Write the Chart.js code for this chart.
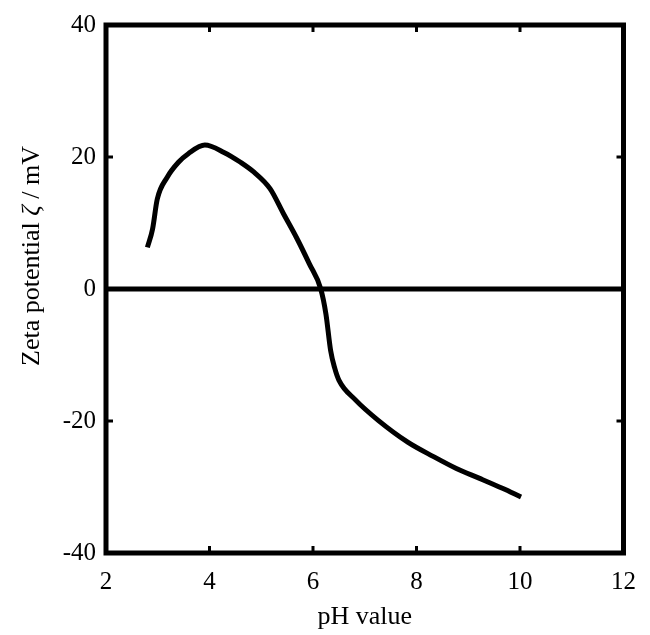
<!DOCTYPE html>
<html>
<head>
<meta charset="utf-8">
<script src="https://cdn.jsdelivr.net/npm/chart.js@4.4.1/dist/chart.umd.min.js"></script>
<style>
  html, body { margin: 0; padding: 0; background: #ffffff; }
  #wrap { width: 650px; height: 635px; position: relative; }
</style>
</head>
<body>
<div id="wrap"><canvas id="c" width="650" height="635"></canvas></div>
<script>
// ---- data ----
const phValues   = [2.80, 2.90, 2.99, 3.18, 3.40, 3.59, 3.91, 4.28, 4.60, 4.86, 5.17, 5.43, 5.68, 5.93, 6.15, 6.25, 6.34, 6.42, 6.50, 6.82, 7.26, 7.83, 8.33, 8.77, 9.22, 9.66, 10.02];
const zetaValues = [6.3, 9.1, 13.6, 16.9, 19.2, 20.5, 21.8, 20.7, 19.2, 17.7, 15.2, 11.4, 7.8, 3.8, 0.0, -3.8, -9.3, -12.0, -13.8, -16.8, -19.9, -23.2, -25.4, -27.2, -28.7, -30.2, -31.5];
const zeroLineX  = [2, 12];
const zeroLineY  = [0, 0];
const xTickValues = [2, 4, 6, 8, 10, 12];
const yTickValues = [-40, -20, 0, 20, 40];
const xTitle = "pH value";
const yTitleParts = ["Zeta potential ", "\u03B6", " / mV"];

const FONT = "'Liberation Serif', 'Times New Roman', serif";

const curveData = phValues.map((x, i) => ({ x: x, y: zetaValues[i] }));
const zeroData = zeroLineX.map((x, i) => ({ x: x, y: zeroLineY[i] }));

const framePlugin = {
  id: 'frame',
  afterDatasetsDraw(chart) {
    const ctx = chart.ctx;
    const a = chart.chartArea;
    const xs = chart.scales.x, ys = chart.scales.y;
    ctx.save();
    ctx.strokeStyle = '#000';
    ctx.lineWidth = 5;
    ctx.strokeRect(a.left, a.top, a.right - a.left, a.bottom - a.top);
    // inward ticks
    const tl = 7;
    ctx.lineWidth = 3;
    xTickValues.forEach(v => {
      const px = xs.getPixelForValue(v);
      ctx.beginPath();
      ctx.moveTo(px, a.bottom); ctx.lineTo(px, a.bottom - tl);
      ctx.moveTo(px, a.top); ctx.lineTo(px, a.top + tl);
      ctx.stroke();
    });
    yTickValues.forEach(v => {
      const py = ys.getPixelForValue(v);
      ctx.beginPath();
      ctx.moveTo(a.left, py); ctx.lineTo(a.left + tl, py);
      ctx.moveTo(a.right, py); ctx.lineTo(a.right - tl, py);
      ctx.stroke();
    });
    ctx.restore();
  },
  afterDraw(chart) {
    const ctx = chart.ctx;
    const a = chart.chartArea;
    ctx.save();
    ctx.fillStyle = '#000';
    // x title
    ctx.font = "26px " + FONT;
    ctx.textAlign = 'center';
    ctx.textBaseline = 'middle';
    ctx.fillText(xTitle, (a.left + a.right) / 2, 617);
    // y title with italic zeta
    const fonts = ["26px " + FONT, "italic 26px " + FONT, "26px " + FONT];
    let widths = yTitleParts.map((t, i) => { ctx.font = fonts[i]; return ctx.measureText(t).width; });
    const total = widths.reduce((s, w) => s + w, 0);
    ctx.translate(32, 256);
    ctx.rotate(-Math.PI / 2);
    ctx.textAlign = 'left';
    let cx = -total / 2;
    yTitleParts.forEach((t, i) => {
      ctx.font = fonts[i];
      ctx.fillText(t, cx, 0);
      cx += widths[i];
    });
    ctx.restore();
  }
};

new Chart(document.getElementById('c'), {
  type: 'scatter',
  data: {
    datasets: [
      {
        data: zeroData,
        showLine: true,
        borderColor: '#000',
        borderWidth: 5,
        pointRadius: 0,
        fill: false
      },
      {
        data: curveData,
        showLine: true,
        borderColor: '#000',
        borderWidth: 5,
        pointRadius: 0,
        cubicInterpolationMode: 'monotone',
        fill: false,
        borderJoinStyle: 'round',
        borderCapStyle: 'butt'
      }
    ]
  },
  options: {
    responsive: false,
    animation: false,
    devicePixelRatio: 1,
    layout: { padding: { top: 24, right: 16, left: 0, bottom: 0 } },
    plugins: { legend: { display: false }, tooltip: { enabled: false } },
    scales: {
      x: {
        type: 'linear',
        min: 2, max: 12,
        afterBuildTicks(scale) { scale.ticks = xTickValues.map(v => ({ value: v })); },
        afterFit(scale) { scale.height = 82; },
        grid: { display: false, drawTicks: false },
        border: { display: false },
        ticks: { color: '#000', font: { family: FONT, size: 25 }, padding: 14, maxRotation: 0 }
      },
      y: {
        type: 'linear',
        min: -40, max: 40,
        afterBuildTicks(scale) { scale.ticks = yTickValues.map(v => ({ value: v })); },
        afterFit(scale) { scale.width = 106; },
        grid: { display: false, drawTicks: false },
        border: { display: false },
        ticks: { color: '#000', font: { family: FONT, size: 25 }, padding: 10 }
      }
    }
  },
  plugins: [framePlugin]
});
</script>
</body>
</html>
